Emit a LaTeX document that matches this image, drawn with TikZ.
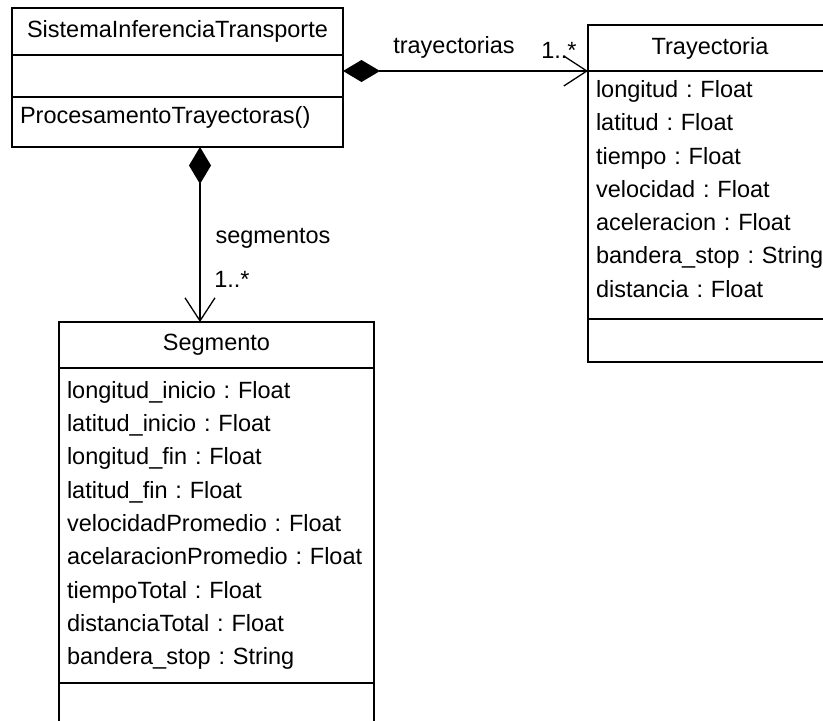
\documentclass[tikz,border=0pt]{standalone}
\usepackage{fontspec}
\setmainfont{Liberation Sans}
\frenchspacing
\usetikzlibrary{positioning,arrows.meta}
\tikzset{umlbox/.style = {draw, line width=1.3pt, rectangle, inner sep=0pt, outer sep=0pt, anchor=north west, font=\fontsize{23.5}{33.3}\selectfont},
         umlhead/.style = {umlbox, minimum width=#1},
         umlattr/.style = {umlbox, align=left, inner xsep=8pt, text width=#1-16pt},
         lbl/.style = {inner sep=0pt, font=\fontsize{23.5}{28}\selectfont},
         comp/.style = {line width=1.3pt, {Diamond[length=37pt,width=22pt]}-{Straight Barb[length=23pt,width=30pt]}}}

\begin{document}
\begin{tikzpicture}[x=1pt,y=-1pt]
    \useasboundingbox(0,0)rectangle(823,721);
    \clip(0,0)rectangle(823,721);
    % SistemaInferenciaTransporte
    \node[umlhead=331pt, minimum height=47pt](sishead)at(12,8){SistemaInferenciaTransporte};
    \node[umlattr=331pt, minimum height=42pt, below=0pt of sishead](sisattr){};
    \node[umlattr=331pt, minimum height=50pt, below=0pt of sisattr](sisops){ProcesamentoTrayectoras()\\[-20pt]\mbox{}};
    % Trayectoria
    \node[umlhead=244pt, minimum height=46pt](trahead)at(588,25){Trayectoria};
    \node[umlattr=244pt, minimum height=248pt, below=0pt of trahead](traattr){longitud : Float\\latitud : Float\\tiempo : Float\\velocidad : Float\\aceleracion : Float\\bandera\_stop : String\\distancia : Float\\[-21pt]\mbox{}};
    \node[umlattr=244pt, minimum height=43pt, below=0pt of traattr](traops){};
    % Segmento
    \node[umlhead=315pt, minimum height=46pt](seghead)at(59,322){Segmento};
    \node[umlattr=315pt, minimum height=315pt, below=0pt of seghead](segattr){longitud\_inicio : Float\\latitud\_inicio : Float\\longitud\_fin : Float\\latitud\_fin : Float\\velocidadPromedio : Float\\acelaracionPromedio : Float\\tiempoTotal : Float\\distanciaTotal : Float\\bandera\_stop : String};
    \node[umlattr=315pt, minimum height=80pt, below=0pt of segattr](segops){};
    % asociaciones
    \coordinate(segin)at([xshift=-16.5pt]seghead.north);
    \draw[comp](sisattr.east|-trahead.south)--(trahead.south west);
    \draw[comp](sisops.south-|segin)--(segin);
    \node[lbl](tralbl)at(454,47){trayectorias};
    \node[lbl](tramult)at(559,50){1..*};
    \node[lbl](seglbl)at(273,238){segmentos};
    \node[lbl](segmult)at(232,279){1..*};
\end{tikzpicture}
\end{document}
